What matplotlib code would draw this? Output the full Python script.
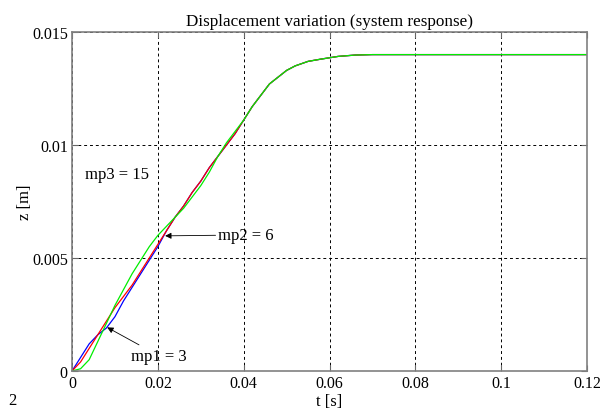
import matplotlib
matplotlib.use('Agg')
import matplotlib.pyplot as plt

plt.rcParams['font.family'] = ['Liberation Serif', 'DejaVu Serif']

# time samples [s]
t = [0, 0.002, 0.004, 0.006, 0.008, 0.010, 0.012, 0.014, 0.016, 0.018, 0.020,
     0.022, 0.024, 0.026, 0.028, 0.030, 0.032, 0.034, 0.036, 0.038, 0.040,
     0.042, 0.044, 0.046, 0.048, 0.050, 0.052, 0.055, 0.058, 0.062, 0.066,
     0.070, 0.075, 0.080, 0.120]

# displacement z [m]
z_mp2 = [0, 0.0004, 0.0010, 0.0016, 0.0022, 0.0028, 0.0033, 0.0038, 0.0044, 0.0050, 0.0056,
         0.0062, 0.0068, 0.0073, 0.0079, 0.0084, 0.0090, 0.0095, 0.0100, 0.0105, 0.0111,
         0.0117, 0.0122, 0.0127, 0.0130, 0.0133, 0.0135, 0.0137, 0.0138, 0.01392, 0.01398,
         0.0140, 0.0140, 0.0140, 0.0140]
z_mp1 = [0, 0.0006, 0.0012, 0.0016, 0.0019, 0.0024, 0.0031, 0.0037, 0.0043, 0.0049, 0.0055,
         0.0062, 0.0068, 0.0073, 0.0079, 0.0084, 0.0090, 0.0095, 0.0100, 0.0105, 0.0111,
         0.0117, 0.0122, 0.0127, 0.0130, 0.0133, 0.0135, 0.0137, 0.0138, 0.01392, 0.01398,
         0.0140, 0.0140, 0.0140, 0.0140]
z_mp3 = [0, 0.0001, 0.0005, 0.0013, 0.0021, 0.0029, 0.0036, 0.0043, 0.0049, 0.0055, 0.0060,
         0.0064, 0.0068, 0.0072, 0.0077, 0.0082, 0.0088, 0.0095, 0.0101, 0.0106, 0.0111,
         0.0117, 0.0122, 0.0127, 0.0130, 0.0133, 0.0135, 0.0137, 0.0138, 0.01392, 0.01398,
         0.0140, 0.0140, 0.0140, 0.0140]

xticks = [0, 0.02, 0.04, 0.06, 0.08, 0.1, 0.12]
xlabels = ['0', '0.02', '0.04', '0.06', '0.08', '0.1', '0.12']
yticks = [0, 0.005, 0.01, 0.015]
ylabels = ['0', '0.005', '0.01', '0.015']

fig = plt.figure(figsize=(6.08, 4.14), dpi=100)
ax = fig.add_axes([72 / 608, 42 / 414, (587 - 72) / 608, (372 - 33) / 414])

ax.plot(t, z_mp1, color='blue', lw=0.9)
ax.plot(t, z_mp2, color='red', lw=0.9)
ax.plot(t, z_mp3, color='#00ee00', lw=0.9)

ax.set_xlim(0, 0.12)
ax.set_ylim(0, 0.015)
ax.set_xticks(xticks)
ax.set_xticklabels(xlabels)
ax.set_yticks(yticks)
ax.set_yticklabels(ylabels)
ax.grid(True, color='black', linestyle=(0, (3, 3)), linewidth=0.7)
ax.tick_params(direction='in', labelsize=11.5, length=4, color='#666666',
               top=True, right=True, pad=3)
for s in ax.spines.values():
  s.set_color('#808080')
  s.set_linewidth(1.2)

ax.set_title('Displacement variation (system response)', fontsize=12.3, pad=5)
ax.set_xlabel('t [s]', fontsize=12, labelpad=1)
ax.set_ylabel('z [m]', fontsize=12, labelpad=-1)

arrow = dict(arrowstyle='-|>', color='black', lw=0.6, mutation_scale=9, shrinkA=0, shrinkB=0)
ax.annotate('mp1 = 3', xy=(0.0082, 0.00193), xytext=(0.0137, 0.00068),
            fontsize=12, va='center', ha='left', arrowprops=arrow)
ax.annotate('mp2 = 6', xy=(0.0217, 0.00598), xytext=(0.0341, 0.00602),
            fontsize=12, va='center', ha='left', arrowprops=arrow)
ax.text(0.0030, 0.00872, 'mp3 = 15', fontsize=12, va='center', ha='left')

fig.text(12 / 608, 1 - 401 / 414, '2', fontsize=12, ha='center', va='center')

fig.savefig('out.png', dpi=100)
